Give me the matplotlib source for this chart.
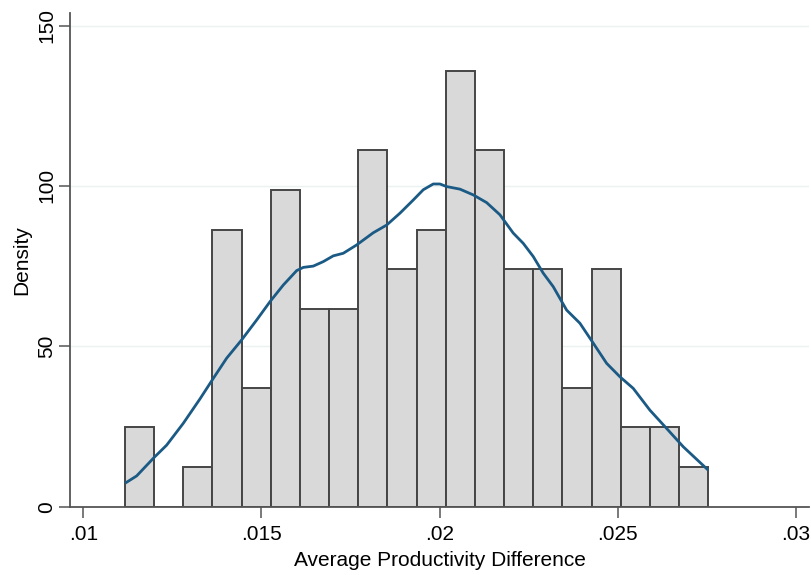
import matplotlib
matplotlib.use("Agg")
import matplotlib.pyplot as plt
import numpy as np

plt.rcParams['font.family'] = ['Liberation Sans', 'DejaVu Sans']

# Histogram: 20 bins of the variable (density scale)
bin_start = 0.01117
bin_width = 0.0008184
bar_density = [24.7, 0.0, 12.3, 86.4, 37.0, 98.8, 61.7, 61.7, 111.1, 74.1,
               86.4, 135.8, 111.1, 74.1, 74.1, 37.0, 74.1, 24.7, 24.7, 12.3]

# Kernel density curve
kde_x = [0.01117, 0.011498, 0.011992, 0.01234, 0.012806, 0.013274, 0.013648,
         0.014023, 0.014444, 0.014865, 0.015238, 0.015612, 0.015988, 0.016173,
         0.016453, 0.016734, 0.017015, 0.017295, 0.017671, 0.018137, 0.018513,
         0.018886, 0.019259, 0.01954, 0.01982, 0.020008, 0.020196, 0.020569,
         0.020943, 0.021319, 0.021692, 0.022065, 0.022346, 0.022626, 0.022907,
         0.023187, 0.023563, 0.023936, 0.02431, 0.024686, 0.025059, 0.025432,
         0.0259, 0.026369, 0.026835, 0.027536]
kde_y = [7.3, 9.6, 15.4, 19.2, 26.0, 33.6, 40.0,
         46.3, 52.0, 58.2, 63.9, 69.1, 73.6, 74.6,
         75.0, 76.4, 78.2, 79.0, 81.6, 85.4, 87.8,
         91.5, 95.6, 98.8, 100.6, 100.6, 99.8, 99.0,
         97.2, 94.8, 91.0, 85.3, 82.1, 78.0, 72.8,
         68.6, 61.3, 57.2, 51.0, 44.7, 40.5, 36.9,
         30.1, 24.4, 18.7, 11.4]

x_ticks = [0.01, 0.015, 0.02, 0.025, 0.03]
x_ticklabels = ['.01', '.015', '.02', '.025', '.03']
y_ticks = [0, 50, 100, 150]
y_ticklabels = ['0', '50', '100', '150']

fig = plt.figure(figsize=(8.12, 5.75), dpi=100)
ax = fig.add_axes([70/812, (575-506.7)/575, (809-70)/812, (506.7-12.7)/575])

edges = bin_start + bin_width * np.arange(len(bar_density))
ax.bar(edges, bar_density, width=bin_width, align='edge',
       color='#d9d9d9', edgecolor='#454545', linewidth=1.4, zorder=2)
ax.plot(kde_x, kde_y, color='#1a5a85', linewidth=2.0, zorder=3,
        solid_capstyle='butt')

ax.set_xlim(0.009627, 0.030365)
ax.set_ylim(0, 154.0)

ax.set_xticks(x_ticks)
ax.set_xticklabels(x_ticklabels)
ax.set_yticks(y_ticks)
ax.set_yticklabels(y_ticklabels, rotation=90, va='center')

for y in [50, 100, 150]:
    ax.axhline(y, color='#eaf2f2', linewidth=1.0, zorder=0)

for s in ['top', 'right']:
    ax.spines[s].set_visible(False)
for s in ['left', 'bottom']:
    ax.spines[s].set_color('#555555')
    ax.spines[s].set_linewidth(1.3)

ax.tick_params(axis='both', colors='#555555', labelcolor='black',
               labelsize=15, length=8, width=1.1, direction='out')
ax.tick_params(axis='x', pad=5)
ax.tick_params(axis='y', pad=2)

ax.set_xlabel('Average Productivity Difference', fontsize=15, labelpad=5)
ax.set_ylabel('Density', fontsize=15, labelpad=4)

fig.savefig('out.png', dpi=100, facecolor='white')
